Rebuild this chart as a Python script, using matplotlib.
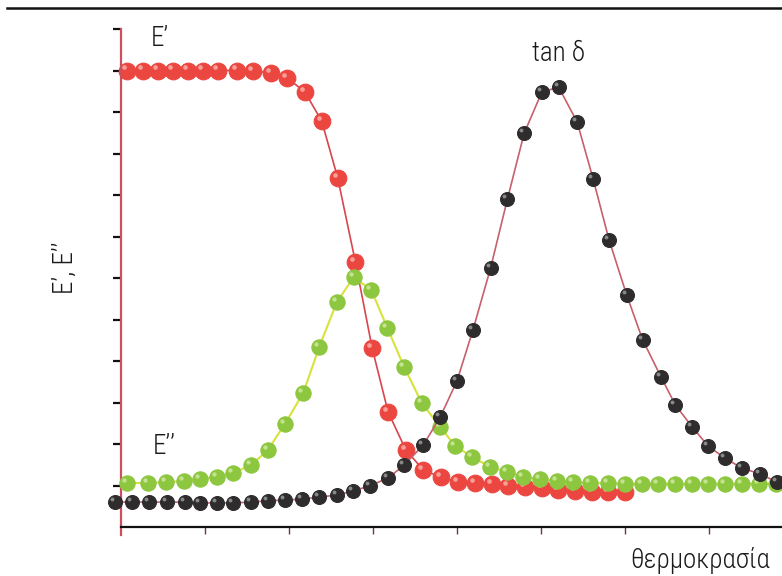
import matplotlib
matplotlib.use("Agg")
import matplotlib.pyplot as plt
from matplotlib.lines import Line2D
from matplotlib.transforms import ScaledTranslation
from matplotlib import font_manager

# Storage modulus E' (red)
e1_temp = [0.07, 0.26, 0.44, 0.62, 0.80, 0.98, 1.15, 1.38, 1.57, 1.79, 1.98,
           2.19, 2.39, 2.58, 2.79, 2.99, 3.18, 3.39, 3.60, 3.81, 4.01, 4.21,
           4.42, 4.61, 4.81, 5.01, 5.20, 5.40, 5.61, 5.80, 6.00]
e1_vals = [11.0, 11.0, 11.0, 11.0, 11.0, 11.0, 11.0, 11.0, 10.99, 10.94, 10.82,
           10.48, 9.78, 8.41, 6.39, 4.31, 2.77, 1.86, 1.37, 1.20, 1.08, 1.06,
           1.04, 0.99, 0.96, 0.94, 0.89, 0.87, 0.84, 0.84, 0.84]

# Loss modulus E'' (green)
e2_temp = [0.07, 0.32, 0.54, 0.75, 0.94, 1.14, 1.33, 1.55, 1.75, 1.95, 2.17,
           2.36, 2.57, 2.77, 2.98, 3.17, 3.37, 3.58, 3.80, 3.98, 4.18, 4.39,
           4.60, 4.79, 4.99, 5.19, 5.38, 5.58, 5.80, 6.00, 6.20, 6.39, 6.60,
           6.80, 6.99, 7.19, 7.39, 7.60, 7.80]
e2_vals = [1.06, 1.06, 1.08, 1.11, 1.16, 1.20, 1.30, 1.49, 1.86, 2.48, 3.23,
           4.34, 5.42, 6.02, 5.71, 4.80, 3.86, 2.99, 2.41, 1.95, 1.69, 1.45,
           1.33, 1.20, 1.16, 1.11, 1.08, 1.06, 1.06, 1.04, 1.04, 1.04, 1.04,
           1.04, 1.04, 1.04, 1.04, 1.04, 1.04]

# Loss factor tan delta (black)
tan_temp = [-0.07, 0.13, 0.33, 0.55, 0.76, 0.94, 1.14, 1.33, 1.55, 1.75, 1.95,
            2.15, 2.36, 2.57, 2.76, 2.96, 3.18, 3.37, 3.60, 3.80, 4.00, 4.19,
            4.40, 4.60, 4.80, 5.01, 5.21, 5.43, 5.62, 5.81, 6.02, 6.21, 6.43,
            6.60, 6.80, 6.99, 7.19, 7.39, 7.61, 7.81]
tan_vals = [0.60, 0.60, 0.60, 0.60, 0.60, 0.58, 0.58, 0.58, 0.60, 0.63, 0.65,
            0.67, 0.72, 0.77, 0.87, 0.99, 1.18, 1.49, 1.98, 2.65, 3.52, 4.75,
            6.24, 7.90, 9.49, 10.48, 10.60, 9.76, 8.39, 6.92, 5.59, 4.51, 3.61,
            2.94, 2.41, 1.95, 1.66, 1.42, 1.28, 1.08]

x_ticks = [1, 2, 3, 4, 5, 6, 7]
y_ticks = list(range(1, 13))

# prefer a narrow sans face when one is present
_names = {f.name for f in font_manager.fontManager.ttflist}
FONT = [n for n in ("Liberation Sans Narrow", "Roboto Condensed",
                    "Open Sans Condensed") if n in _names]
FONT += ["Roboto", "Liberation Sans", "DejaVu Sans"]
TEXT_KW = dict(fontsize=19.5, family=FONT, color="#1a1a1a", fontweight="light")

fig = plt.figure(figsize=(7.82, 5.76), dpi=100)
W, H = 782, 576
ax = fig.add_axes([121 / W, 49 / H, (W - 121) / W, (527 - 29) / H])
ax.set_xlim(0, (W - 121) / 84)
ax.set_ylim(0, 12)

for s in ("top", "right"):
    ax.spines[s].set_visible(False)
ax.spines["bottom"].set_color("#111111")
ax.spines["bottom"].set_linewidth(1.6)
ax.spines["left"].set_color("#c9505c")
ax.spines["left"].set_linewidth(1.6)
ax.spines["left"].set_bounds(-0.2, 12)

ax.set_xticks(x_ticks)
ax.set_yticks(y_ticks)
ax.set_xticklabels([])
ax.set_yticklabels([])
ax.tick_params(axis="x", direction="out", length=5, width=1.0, color="#6a3a3a")
ax.tick_params(axis="y", direction="out", length=6, width=1.6, color="#111111")


def ball_series(x, y, face, line, ms, hl, z, lw=1.2):
    ax.plot(x, y, color=line, lw=lw, zorder=z, clip_on=False)
    ax.plot(x, y, ls="none", marker="o", ms=ms, mfc=face, mec=face,
            mew=0.8, zorder=z + 0.1, clip_on=False)
    shift = ScaledTranslation(-2.2 / 72, 2.2 / 72, fig.dpi_scale_trans)
    ax.plot(x, y, ls="none", marker="o", ms=ms * 0.28, mfc=hl, mec="none",
            alpha=0.85, zorder=z + 0.2, clip_on=False,
            transform=ax.transData + shift)


ball_series(e1_temp, e1_vals, "#ec4640", "#d8454e", 12.0, "#f7b0a8", 2)
ball_series(e2_temp, e2_vals, "#8dc63f", "#d8e23a", 11.0, "#cfe9a0", 3, lw=1.5)
ball_series(tan_temp, tan_vals, "#2e2c2c", "#c8606c", 10.0, "#9a9a9a", 4)

ax.text(0.46, 11.78, "E’", ha="center", va="center", **TEXT_KW)
ax.text(5.21, 11.42, "tan δ", ha="center", va="center", **TEXT_KW)
ax.text(0.52, 1.93, "E’’", ha="center", va="center", **TEXT_KW)

fig.text(65 / W, 1 - 268 / H, "E’, E’’", rotation=90, ha="center",
         va="center", **TEXT_KW)
fig.text(770 / W, 1 - 560 / H, "θερμοκρασία", ha="right", va="center",
         **TEXT_KW)

fig.add_artist(Line2D([7 / W, 1.0], [1 - 8 / H, 1 - 8 / H], color="#111111",
                      lw=1.8))

fig.savefig("out.png", dpi=100, facecolor="white")
